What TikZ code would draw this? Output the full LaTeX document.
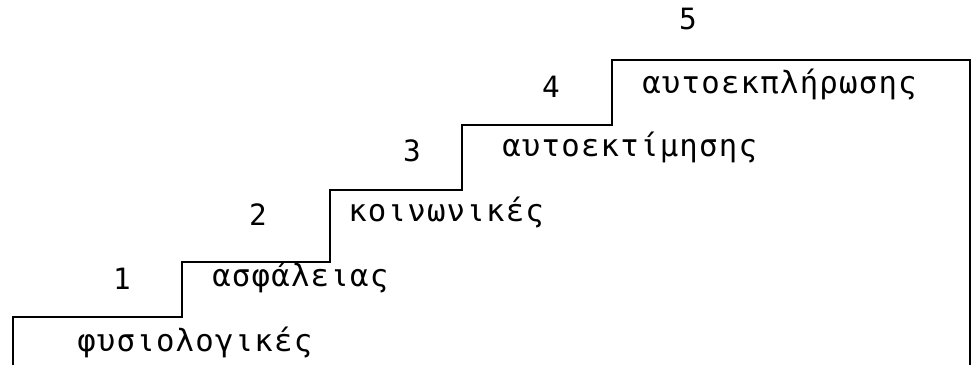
\documentclass[tikz,border=0pt]{standalone}
\usepackage{fontspec}
\setmonofont[LetterSpace=4]{DejaVu Sans Mono}
\usepackage{tikz}
\usetikzlibrary{positioning}

\begin{document}
\begin{tikzpicture}[
  x=0.75pt, y=-0.75pt,
  font=\ttfamily\fontsize{23}{27}\selectfont,
  stair/.style={draw, line width=2pt, line join=miter},
  num/.style={inner sep=0pt, anchor=base, font=\ttfamily\fontsize{22}{26}\selectfont},
  need/.style={inner sep=0pt, anchor=base west}
]
\useasboundingbox (0,0) rectangle (973,365);
% the stairs
\draw[stair] (13,365) -- (13,317) -- (182,317) -- (182,262) -- (330,262)
  -- (330,190) -- (462,190) -- (462,125) -- (612,125) -- (612,60)
  -- (970,60) -- (970,365);
% step numbers
\node[num] (n1) at (122,289) {1};
\node[num] (n2) at (258,225) {2};
\node[num] (n3) at (412,161) {3};
\node[num] (n4) at (551,97) {4};
\node[num] (n5) at (688,29) {5};
% needs
\node[need] (s1) at (77,351) {φυσιολογικές};
\node[need] (s2) at (212,286) {ασφάλειας};
\node[need] (s3) at (348,221) {κοινωνικές};
\node[need] (s4) at (502,156) {αυτοεκτίμησης};
\node[need] (s5) at (642,93) {αυτοεκπλήρωσης};
\end{tikzpicture}
\end{document}
